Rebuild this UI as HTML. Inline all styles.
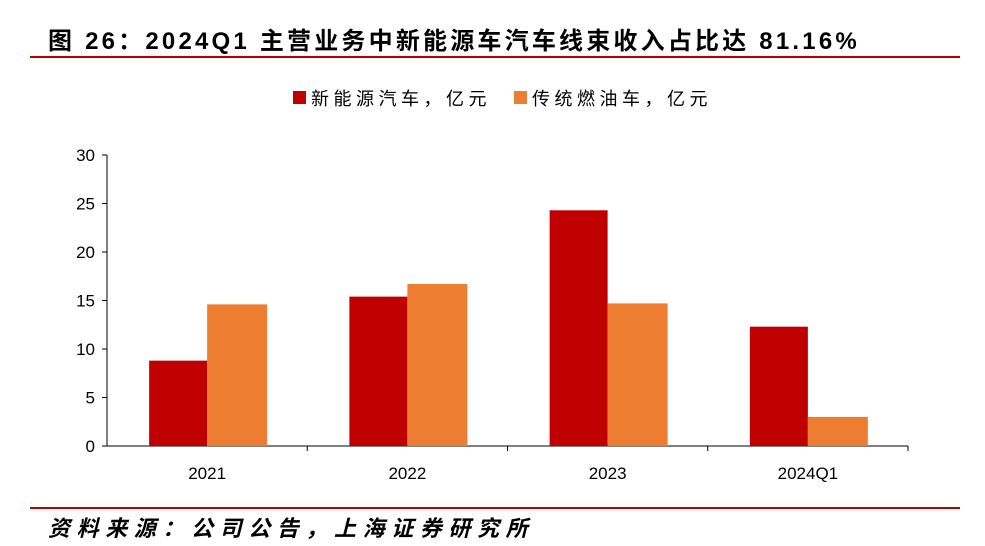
<!DOCTYPE html>
<html><head><meta charset="utf-8">
<style>
body{margin:0;background:#fff;width:985px;height:546px;overflow:hidden;font-family:"Liberation Sans","Noto Sans CJK SC",sans-serif;}
#title{position:absolute;left:48px;top:21px;font-size:24px;font-weight:bold;color:#000;letter-spacing:3.2px;white-space:nowrap;}
.rule{position:absolute;left:30px;width:930px;height:2px;background:#c00000;}
#src{position:absolute;left:48px;top:511px;font-size:22px;font-style:italic;font-weight:bold;color:#000;letter-spacing:6.6px;white-space:nowrap;}
svg{position:absolute;left:0;top:0;}
</style></head><body>
<div id="title">图 26：2024Q1 主营业务中新能源车汽车线束收入占比达 81.16%</div>
<div class="rule" style="top:56px"></div>
<div class="rule" style="top:507px"></div>
<div id="src">资料来源：公司公告，上海证券研究所</div>
<svg id="chart" width="985" height="546"></svg>
<script>
const categories=["2021","2022","2023","2024Q1"];
const nevValues=[8.8,15.4,24.3,12.3];
const iceValues=[14.6,16.7,14.7,3.0];
const yTicks=[0,5,10,15,20,25,30];
const seriesNames=["新能源汽车，亿元","传统燃油车，亿元"];
const colors=["#c00000","#ed7d31"];
const svg=document.getElementById('chart');
const NS='http://www.w3.org/2000/svg';
const x0=107,x1=908,yTop=155,yBot=446,yMax=30;
const y=v=>yBot-(v/yMax)*(yBot-yTop);
const band=(x1-x0)/categories.length;
const cx=i=>x0+band*(i+0.5);
function el(tag,attrs){const e=document.createElementNS(NS,tag);for(const k in attrs)e.setAttribute(k,attrs[k]);svg.appendChild(e);return e;}
let ax=el('line',{x1:x0,y1:yTop,x2:x0,y2:yBot,stroke:'#000','stroke-width':1});


let bx=el('line',{x1:x0,y1:yBot,x2:x1,y2:yBot,stroke:'#000','stroke-width':1});


yTicks.forEach(t=>{
  const tk=el('line',{x1:x0-5,y1:y(t),x2:x0,y2:y(t),stroke:'#000'});
  
  
  const tx=el('text',{x:x0-12,y:y(t)+6,'text-anchor':'end','font-size':17,fill:'#000'});
  tx.textContent=t;
  
  
});
const bw=58;
categories.forEach((c,i)=>{
  const tk=el('line',{x1:x0+band*(i+1),y1:yBot,x2:x0+band*(i+1),y2:yBot+5,stroke:'#000'});
  
  
  const r1=el('rect',{x:cx(i)-bw,y:y(nevValues[i]),width:bw,height:yBot-y(nevValues[i]),fill:colors[0]});
  
  
  const r2=el('rect',{x:cx(i),y:y(iceValues[i]),width:bw+2,height:yBot-y(iceValues[i]),fill:colors[1]});
  
  
  const tx=el('text',{x:cx(i),y:yBot+33,'text-anchor':'middle','font-size':17,fill:'#000'});
  tx.textContent=c;
  
  
});
const lx=[293,514];
seriesNames.forEach((n,i)=>{
  const s=el('rect',{x:lx[i],y:91,width:13,height:13,fill:colors[i]});
  
  
  const t=el('text',{x:lx[i]+18,y:105,'font-size':18,'letter-spacing':4.5,fill:'#000'});
  t.textContent=n;
  
  
});
</script>
</body></html>
